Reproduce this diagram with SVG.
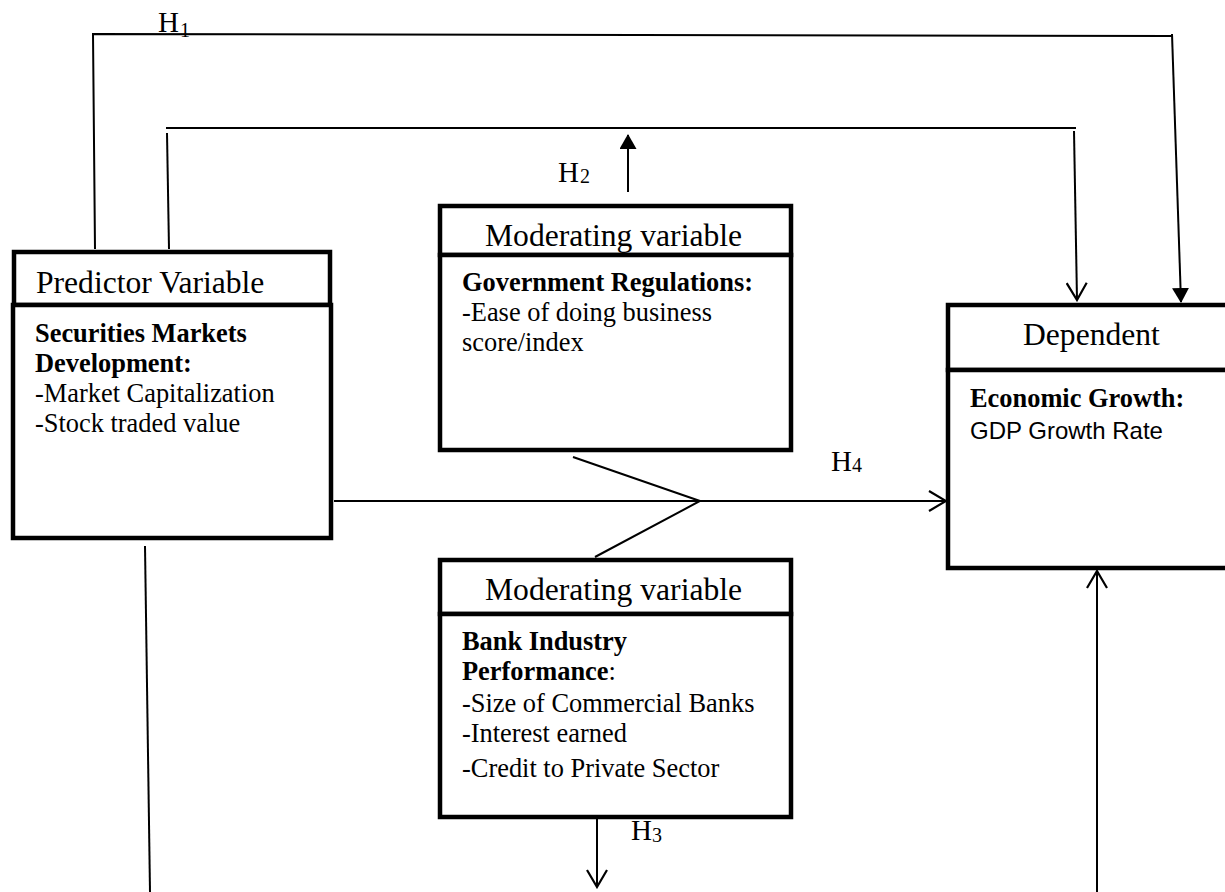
<svg xmlns="http://www.w3.org/2000/svg" width="1225" height="892" viewBox="0 0 1225 892">
<style>
.box{fill:#fff;stroke:#000;stroke-width:4.5}
.hdr{font-family:"Liberation Serif","Times New Roman",serif;font-size:31.6px;fill:#000}
.txt{font-family:"Liberation Serif","Times New Roman",serif;font-size:26.4px;fill:#000}
.b{font-weight:bold}
.sans{font-family:"Liberation Sans",Arial,sans-serif;font-size:24px;fill:#000}
.h{font-family:"Liberation Serif","Times New Roman",serif;font-size:29px;fill:#000}
.sub{font-family:"Liberation Serif","Times New Roman",serif;font-size:20px;fill:#000}
.ln{fill:none;stroke:#000;stroke-width:2}
</style>
<defs>
<marker id="fill" markerUnits="userSpaceOnUse" viewBox="0 0 15 17" refX="14" refY="8.5" markerWidth="15" markerHeight="17" orient="auto">
<path d="M0,0 L15,8.5 L0,17 Z" fill="#000"/>
</marker>
<marker id="open" markerUnits="userSpaceOnUse" viewBox="-1 -1 20 22" refX="17" refY="10" markerWidth="20" markerHeight="22" orient="auto">
<path d="M0,0 L17,10 L0,20" fill="none" stroke="#000" stroke-width="2.2"/>
</marker>
</defs>

<g id="connectors">
<polyline class="ln" points="95,249 93,34 1172,36"/>
<line class="ln" x1="1172" y1="34" x2="1181" y2="302" marker-end="url(#fill)"/>
<line class="ln" x1="169" y1="249" x2="167" y2="133"/>
<line class="ln" x1="166" y1="128" x2="1076" y2="128"/>
<line class="ln" x1="1074" y1="131" x2="1077" y2="300" marker-end="url(#open)"/>
<line class="ln" x1="628" y1="192" x2="628" y2="135" marker-end="url(#fill)"/>
<line class="ln" x1="334" y1="501" x2="946" y2="501" marker-end="url(#open)"/>
<polyline class="ln" points="573,457 700,501 595,557"/>
<line class="ln" x1="145" y1="546" x2="150" y2="892"/>
<line class="ln" x1="597" y1="819" x2="597" y2="887" marker-end="url(#open)"/>
<line class="ln" x1="1097" y1="892" x2="1097" y2="571" marker-end="url(#open)"/>
</g>

<g id="labels">
<text class="h" x="158" y="32">H</text><text class="sub" x="180" y="37">1</text>
<text class="h" x="558" y="182">H</text><text class="sub" x="580" y="183">2</text>
<text class="h" x="631" y="840">H</text><text class="sub" x="652" y="842">3</text>
<text class="h" x="831" y="471">H</text><text class="sub" x="852" y="472">4</text>
</g>

<g id="predictor">
<rect class="box" x="14" y="252" width="316" height="53"/>
<rect class="box" x="13" y="305" width="318" height="233"/>
<text class="hdr" x="36" y="293">Predictor Variable</text>
<text class="txt b" x="35" y="342">Securities Markets</text>
<text class="txt b" x="35" y="372">Development:</text>
<text class="txt" x="35" y="402">-Market Capitalization</text>
<text class="txt" x="35" y="432">-Stock traded value</text>
</g>

<g id="government">
<rect class="box" x="440" y="206" width="351" height="49"/>
<rect class="box" x="440" y="255" width="351" height="195"/>
<text class="hdr" x="485" y="246">Moderating variable</text>
<text class="txt b" x="462" y="291">Government Regulations:</text>
<text class="txt" x="462" y="321">-Ease of doing business</text>
<text class="txt" x="462" y="351">score/index</text>
</g>

<g id="bank">
<rect class="box" x="440" y="560" width="351" height="54"/>
<rect class="box" x="440" y="614" width="351" height="203"/>
<text class="hdr" x="485" y="600">Moderating variable</text>
<text class="txt b" x="462" y="650">Bank Industry</text>
<text class="txt" x="462" y="680"><tspan class="b">Performance</tspan>:</text>
<text class="txt" x="462" y="712">-Size of Commercial Banks</text>
<text class="txt" x="462" y="742">-Interest earned</text>
<text class="txt" x="462" y="777">-Credit to Private Sector</text>
</g>

<g id="dependent">
<rect class="box" x="948" y="305" width="290" height="65"/>
<rect class="box" x="948" y="370" width="290" height="198"/>
<text class="hdr" x="1023" y="345">Dependent</text>
<text class="txt b" x="970" y="407">Economic Growth:</text>
<text class="sans" x="970" y="439">GDP Growth Rate</text>
</g>
</svg>
